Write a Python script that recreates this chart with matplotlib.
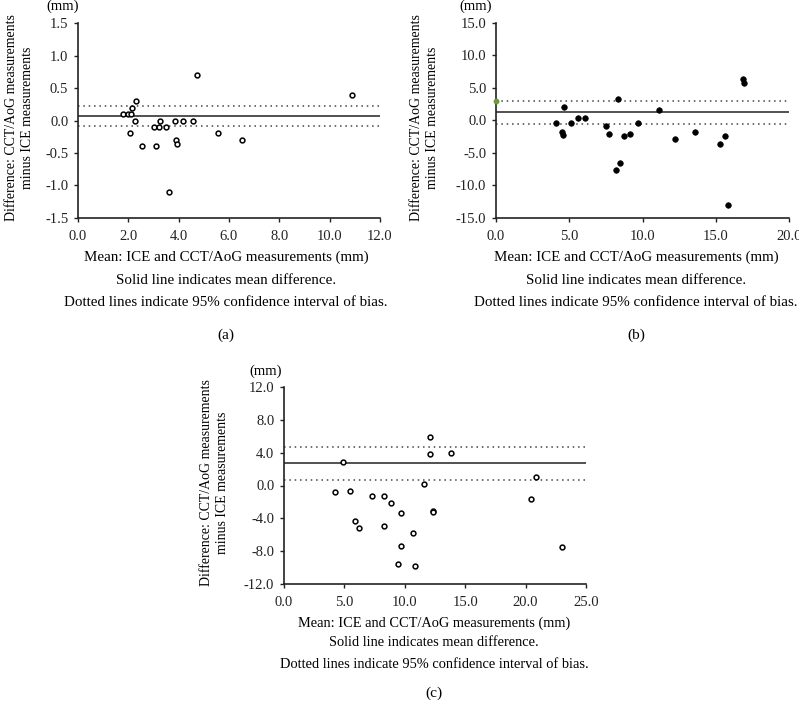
import matplotlib
matplotlib.use("Agg")
import matplotlib.pyplot as plt
from matplotlib.ticker import FormatStrFormatter, MultipleLocator

plt.rcParams['font.family'] = ['Liberation Serif', 'DejaVu Serif']

W, H = 799, 709

# ---------------- data ----------------
# Panel (a)
a_x = [10.9, 2.31, 2.16, 1.80, 2.00, 2.11, 2.27, 3.26, 3.86, 4.17, 4.58,
       3.01, 3.21, 3.51, 2.05, 5.57, 3.91, 6.53, 3.95, 2.56, 3.08, 3.61, 4.72]
a_y = [0.40, 0.30, 0.20, 0.10, 0.10, 0.10, 0.00, 0.00, 0.00, 0.00, 0.00,
       -0.10, -0.10, -0.10, -0.20, -0.20, -0.30, -0.30, -0.37, -0.40, -0.40, -1.10, 0.70]
a_mean, a_lo, a_hi = 0.075, -0.08, 0.224

# Panel (b)
b_x = [4.09, 4.48, 4.59, 4.64, 5.11, 5.57, 6.07, 7.48, 7.70, 8.18, 8.30, 8.48,
       8.77, 9.18, 9.68, 11.14, 12.2, 13.57, 15.32, 15.61, 15.82, 16.84, 16.93]
b_y = [-0.46, -1.79, -2.30, 2.05, -0.36, 0.36, 0.36, -0.92, -2.15, -7.58, 3.28, -6.55,
       -2.36, -2.15, -0.36, 1.64, -2.87, -1.84, -3.58, -2.36, -12.95, 6.35, 5.73]
b_mean, b_lo, b_hi = 1.23, -0.51, 2.97

# Panel (c)
c_x = [4.86, 4.19, 5.49, 5.85, 6.24, 7.31, 8.31, 8.25, 8.86, 9.66, 9.66, 9.46,
       10.65, 10.84, 11.56, 12.06, 12.11, 12.31, 12.31, 13.82, 20.45, 20.86, 23.04]
c_y = [2.85, -0.85, -0.65, -4.35, -5.16, -1.26, -1.26, -4.96, -2.15, -3.33, -7.36, -9.59,
       -5.77, -9.76, 0.24, 5.89, 3.78, -3.09, -3.25, 3.98, -1.67, 1.06, -7.48]
c_mean, c_lo, c_hi = 2.72, 0.69, 4.72

xlabel = "Mean: ICE and CCT/AoG measurements (mm)"
note1 = "Solid line indicates mean difference."
note2 = "Dotted lines indicate 95% confidence interval of bias."
ylabel = "Difference: CCT/AoG measurements\nminus ICE measurements"

fig = plt.figure(figsize=(W / 100, H / 100), dpi=100)


def px_axes(l, t, r, b):
    return fig.add_axes([l / W, 1 - b / H, (r - l) / W, (b - t) / H])


def ftext(x, y, s, **kw):
    fig.text(x / W, 1 - y / H, s, **kw)


TICK_FS = 10.5


def panel(box, xs, ys, mean, lo, hi, xlim, xstep, ylim, ystep, filled,
          ylab_x, mm_xy, label_ys, letter, text_cx, text_fs, ylab_fs):
    l, t, r, b = box
    ax = px_axes(l, t, r, b)
    ax.set_xlim(*xlim)
    ax.set_ylim(*ylim)
    ax.xaxis.set_major_locator(MultipleLocator(xstep))
    ax.yaxis.set_major_locator(MultipleLocator(ystep))
    ax.xaxis.set_major_formatter(FormatStrFormatter('%.1f'))
    ax.yaxis.set_major_formatter(FormatStrFormatter('%.1f'))
    for s in ['top', 'right']:
        ax.spines[s].set_visible(False)
    for s in ['left', 'bottom']:
        ax.spines[s].set_linewidth(1.2)
        ax.spines[s].set_color('#222222')
    ax.tick_params(direction='out', length=3, width=1, labelsize=TICK_FS,
                   colors='#222222', pad=4)
    ax.tick_params(axis='x', pad=6)
    ax.axhline(mean, color='#333333', lw=1.2, zorder=2)
    ax.axhline(lo, color='#444444', lw=1.1, ls=(0, (1, 2.5)), zorder=2)
    ax.axhline(hi, color='#444444', lw=1.1, ls=(0, (1, 2.5)), zorder=2)
    if filled:
        ax.scatter(xs, ys, s=16, c='black', edgecolors='black', linewidths=0.5,
                   zorder=3, clip_on=False)
    else:
        ax.scatter(xs, ys, s=12, facecolors='white', edgecolors='black',
                   linewidths=1.1, zorder=3, clip_on=False)
    ftext(ylab_x, (t + b) / 2 - 3, ylabel, rotation=90, ha='center', va='center',
          fontsize=ylab_fs, linespacing=1.3)
    ftext(mm_xy[0], mm_xy[1], "(mm)", ha='center', va='center', fontsize=10.5)
    ftext(text_cx, label_ys[0], xlabel, ha='center', va='center', fontsize=text_fs)
    ftext(text_cx, label_ys[1], note1, ha='center', va='center', fontsize=text_fs)
    ftext(text_cx, label_ys[2], note2, ha='center', va='center', fontsize=text_fs)
    ftext(text_cx, label_ys[3], letter, ha='center', va='center', fontsize=11)
    return ax


axa = panel((78, 23.3, 380, 217.7), a_x, a_y, a_mean, a_lo, a_hi,
            (0, 12), 2, (-1.5, 1.5), 0.5, False,
            20, (63, 6), (257, 280, 302, 335), "(a)", 226, 10.8, 10.0)
axb = panel((496, 22.7, 789, 218), b_x, b_y, b_mean, b_lo, b_hi,
            (0, 20), 5, (-15, 15), 5, True,
            425, (476, 6), (257, 280, 302, 335), "(b)", 636, 10.8, 10.0)
axb.scatter([0], [b_hi], s=10, c='#6a9a3a', zorder=4, clip_on=False)
axc = panel((284, 387, 586, 584), c_x, c_y, c_mean, c_lo, c_hi,
            (0, 25), 5, (-12, 12), 4, False,
            214, (266, 371), (623, 643, 664, 693), "(c)", 434, 10.4, 10.0)

fig.savefig("out.png", dpi=100)
